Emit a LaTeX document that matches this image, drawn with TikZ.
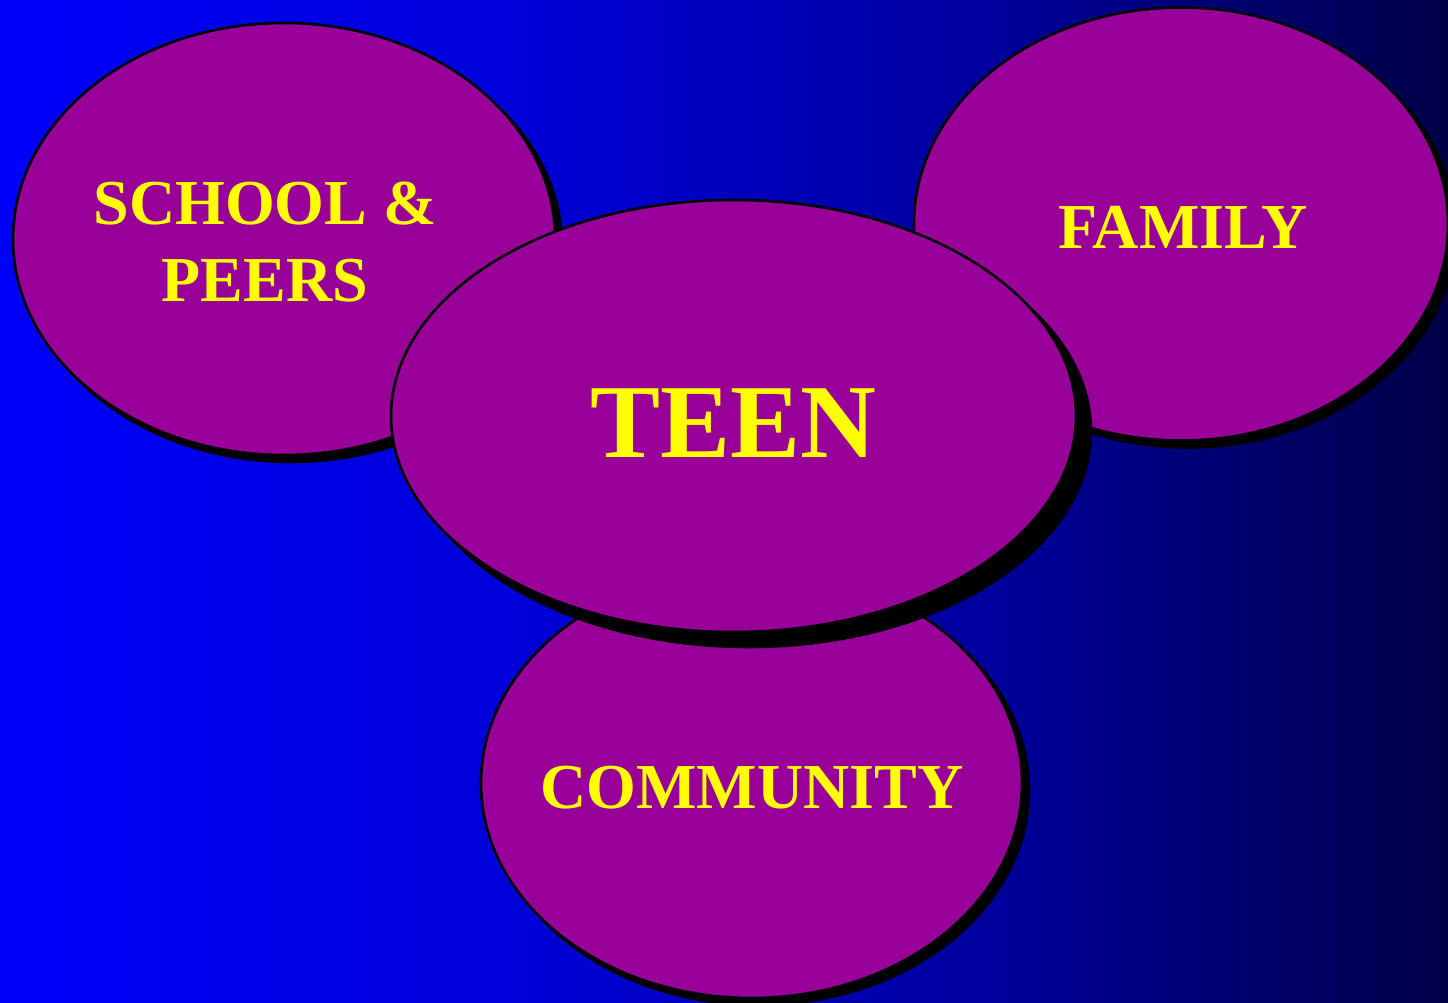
\documentclass[tikz,border=0pt]{standalone}
\usepackage{fontspec}
\setmainfont{Liberation Serif}
\usetikzlibrary{shapes.geometric,shadows}
\definecolor{bgA}{RGB}{0,0,252}
\definecolor{bgB}{RGB}{0,0,218}
\definecolor{bgC}{RGB}{0,0,155}
\definecolor{bgD}{RGB}{0,0,72}
\definecolor{blob}{RGB}{153,0,153}
\definecolor{label}{RGB}{255,255,0}
\pgfdeclarehorizontalshading{bgshade}{100bp}{color(0bp)=(bgA); color(25bp)=(bgA); color(42.3bp)=(bgB); color(59.5bp)=(bgC); color(75bp)=(bgD); color(100bp)=(bgD)}
\tikzset{
  blobshape/.style={ellipse, draw=black, line width=2.6pt, fill=blob, inner sep=0pt, outer sep=0pt},
  smallshadow/.style={general shadow={fill=black, draw=black, line width=2.6pt, shadow xshift=7pt, shadow yshift=-7pt}},
  bigshadow/.style={general shadow={fill=black, draw=black, line width=2.6pt, shadow xshift=15pt, shadow yshift=-15pt}},
  txt/.style={text=label, font=\bfseries\fontsize{64}{76}\selectfont, align=center, inner sep=0pt, anchor=base},
}
\begin{document}
\begin{tikzpicture}[x=1pt,y=-1pt]
  % backdrop
  \shade[shading=bgshade] (0,0) rectangle (1448,1003);
  \useasboundingbox (0,0) rectangle (1448,1003);
  % circles of influence
  \node[blobshape, smallshadow, minimum width=542pt, minimum height=432pt] (school) at (284,239) {};
  \node[blobshape, smallshadow, minimum width=534pt, minimum height=433pt] (family) at (1181,224) {};
  \node[blobshape, smallshadow, minimum width=541pt, minimum height=430pt] (community) at (751.5,783) {};
  \node[blobshape, bigshadow, minimum width=685pt, minimum height=432pt] (teen) at (733.5,416) {};
  % labels
  \node[txt] (schooltxt) at (265,225) {SCHOOL \&};
  \node[txt] (peerstxt) at (265,301) {PEERS};
  \node[txt] (familytxt) at (1183,248) {FAMILY};
  \node[txt] (communitytxt) at (752,808) {COMMUNITY};
  \node[txt, font=\bfseries\fontsize{105}{105}\selectfont] (teentxt) at (733,457) {TEEN};
\end{tikzpicture}
\end{document}
